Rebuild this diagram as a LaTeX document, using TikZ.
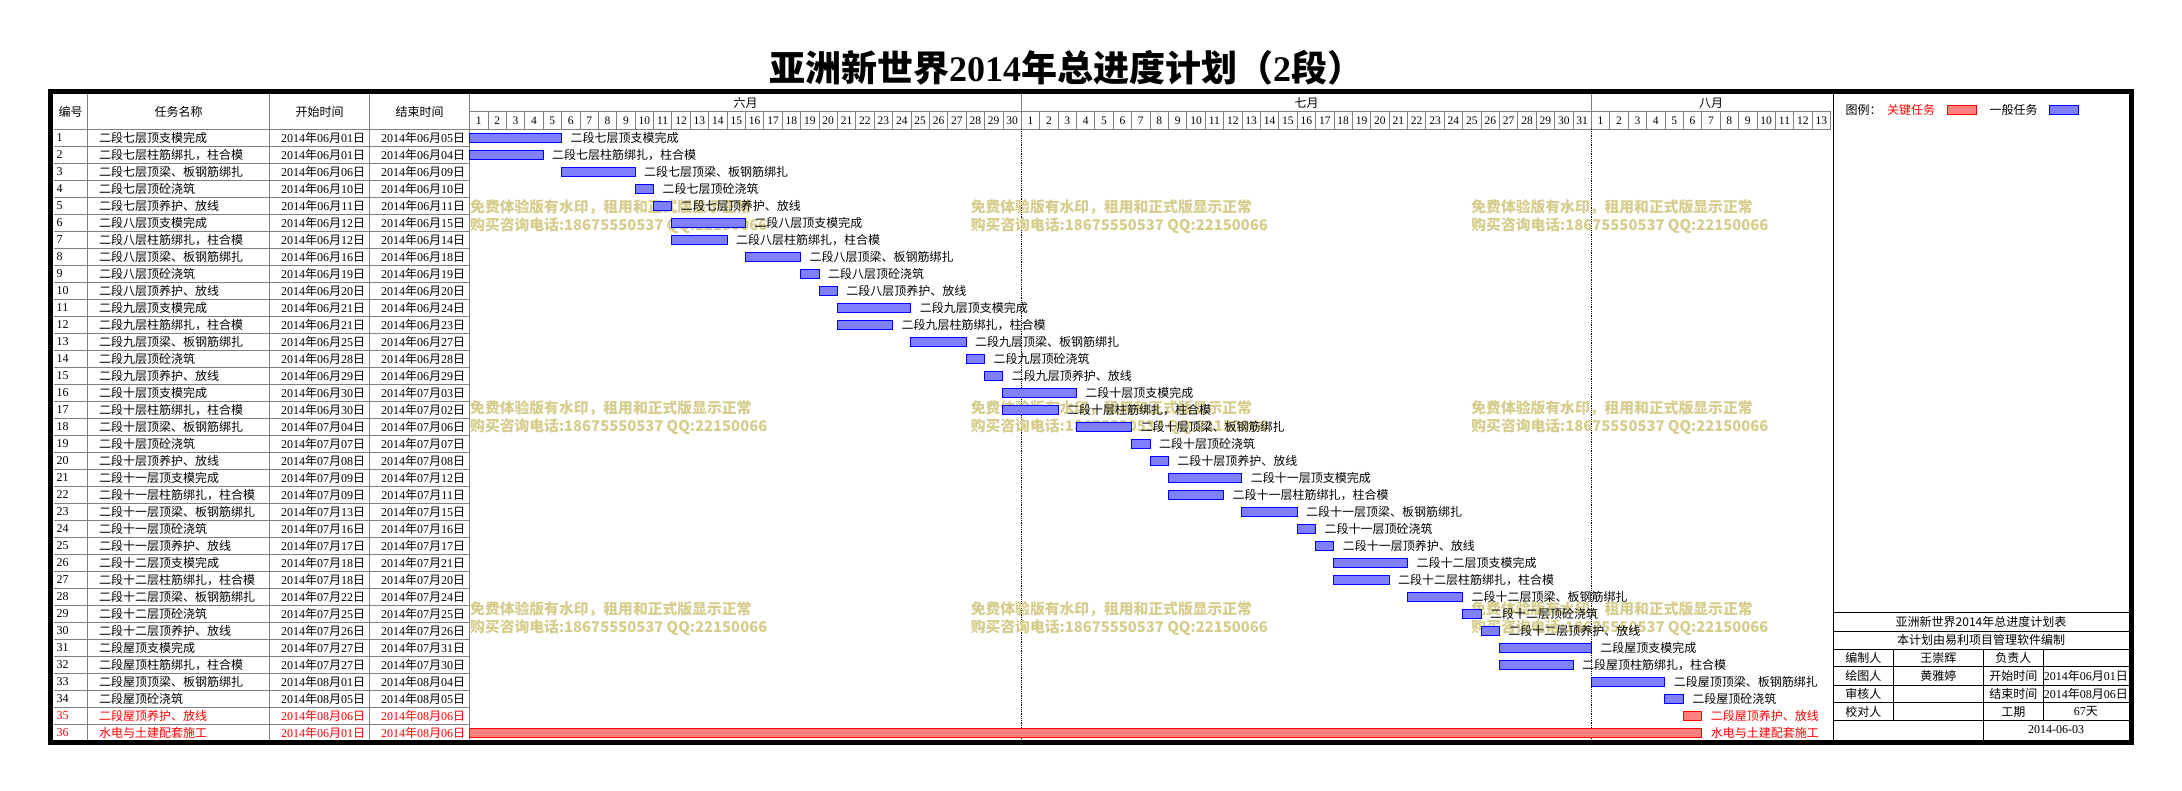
\documentclass[tikz,border=0pt]{standalone}
\usepackage{fontspec}
\setmainfont{Liberation Serif}
\newfontfamily\cjk{Noto Sans CJK SC}
\usetikzlibrary{positioning}
\definecolor{gridgray}{RGB}{128,128,128}
\definecolor{wmark}{RGB}{214,204,140}
\newcommand\twod[1]{\ifnum#1<10 0\fi#1}
\newcommand\ymd[2]{2014{\cjk 年}\twod{#1}{\cjk 月}\twod{#2}{\cjk 日}}

\begin{document}
\begin{tikzpicture}[x=1pt,y=-1pt,
  cell/.style={inner sep=0,outer sep=0,font=\fontsize{12}{14}\selectfont},
  zh/.style={cell,font=\cjk\fontsize{12}{14}\selectfont},
  day/.style={cell,font=\fontsize{11.5}{13}\selectfont},
  tline/.style={draw=gridgray,line width=0.8pt},
  bar/.style={draw=blue,fill=blue!50,line width=1pt,minimum height=9.4pt,inner sep=0,outer sep=0,anchor=west},
  critbar/.style={bar,draw=red,fill=red!50},
  wm/.style={inner sep=0,anchor=west,align=left,text=wmark,font=\cjk\bfseries\fontsize{14.8}{18}\selectfont}]
  \useasboundingbox (0,0) rectangle (2182,791);

  \node[font=\fontsize{36}{40}\selectfont\bfseries] (title) at (1066,68)
    {{\cjk 亚洲新世界}2014{\cjk 年总进度计划（}2{\cjk 段）}};

  % header
  \node[zh] (hno)   at (70.5,111.7)  {编号};
  \node[zh] (hname) at (178.5,111.7) {任务名称};
  \node[zh] (hst)   at (319.6,111.7) {开始时间};
  \node[zh] (hen)   at (419.6,111.7) {结束时间};
  \node[zh] (m6) at (745.5,102.8)  {六月};
  \node[zh] (m7) at (1306.5,102.8) {七月};
  \node[zh] (m8) at (1711,102.8)   {八月};
  \foreach \m/\off/\len in {6/0/30,7/30/31,8/61/13}
    \foreach \d in {1,...,\len}
      \node[day] (d\m-\d) at ({469.6+(\off+\d-0.5)*18.39},120.7) {\d};
  \foreach \k in {0,...,74}
    \draw[tline] ({469.6+\k*18.39},111.7) -- ++(0,17.6);
  \draw[tline] (469.6,111.7) -- (1830.6,111.7);
  \draw[tline] (53.5,129.3) -- (1830.6,129.3);
  \foreach \x in {87.5,269.6,369.6,469.6}
    \draw[tline] (\x,94) -- (\x,739.5);
  \foreach \i in {1,...,35}
    \draw[tline] (53.5,129.3+17*\i) -- (469.6,129.3+17*\i);
  \foreach \x in {1021.3,1591.5} {
    \draw[tline] (\x,94) -- (\x,111.7);
    \draw[densely dotted,line width=0.8pt] (\x,129.3) -- (\x,739.5);
  }

  % watermark
  \foreach \c in {0,1,2}
    \foreach \r in {0,1,2}
      \node[wm] (wm\c\r) at (470+500.6*\c,216.5+201*\r)
        {免费体验版有水印，租用和正式版显示正常\\购买咨询电话:18675550537 QQ:22150066};

  % tasks
  \foreach \i/\ma/\da/\mb/\db/\n in {
    1/6/1/6/5/二段七层顶支模完成, 2/6/1/6/4/二段七层柱筋绑扎，柱合模,
    3/6/6/6/9/二段七层顶梁、板钢筋绑扎, 4/6/10/6/10/二段七层顶砼浇筑,
    5/6/11/6/11/二段七层顶养护、放线, 6/6/12/6/15/二段八层顶支模完成,
    7/6/12/6/14/二段八层柱筋绑扎，柱合模, 8/6/16/6/18/二段八层顶梁、板钢筋绑扎,
    9/6/19/6/19/二段八层顶砼浇筑, 10/6/20/6/20/二段八层顶养护、放线,
    11/6/21/6/24/二段九层顶支模完成, 12/6/21/6/23/二段九层柱筋绑扎，柱合模,
    13/6/25/6/27/二段九层顶梁、板钢筋绑扎, 14/6/28/6/28/二段九层顶砼浇筑,
    15/6/29/6/29/二段九层顶养护、放线, 16/6/30/7/3/二段十层顶支模完成,
    17/6/30/7/2/二段十层柱筋绑扎，柱合模, 18/7/4/7/6/二段十层顶梁、板钢筋绑扎,
    19/7/7/7/7/二段十层顶砼浇筑, 20/7/8/7/8/二段十层顶养护、放线,
    21/7/9/7/12/二段十一层顶支模完成, 22/7/9/7/11/二段十一层柱筋绑扎，柱合模,
    23/7/13/7/15/二段十一层顶梁、板钢筋绑扎, 24/7/16/7/16/二段十一层顶砼浇筑,
    25/7/17/7/17/二段十一层顶养护、放线, 26/7/18/7/21/二段十二层顶支模完成,
    27/7/18/7/20/二段十二层柱筋绑扎，柱合模, 28/7/22/7/24/二段十二层顶梁、板钢筋绑扎,
    29/7/25/7/25/二段十二层顶砼浇筑, 30/7/26/7/26/二段十二层顶养护、放线,
    31/7/27/7/31/二段屋顶支模完成, 32/7/27/7/30/二段屋顶柱筋绑扎，柱合模,
    33/8/1/8/4/二段屋顶顶梁、板钢筋绑扎, 34/8/5/8/5/二段屋顶砼浇筑,
    35/8/6/8/6/二段屋顶养护、放线, 36/6/1/8/6/水电与土建配套施工} {
    \pgfmathsetmacro\yc{129.3+17*\i-8.5}
    \pgfmathtruncatemacro\ds{\da-1+(\ma>6)*30+(\ma>7)*31}
    \pgfmathtruncatemacro\de{\db+(\mb>6)*30+(\mb>7)*31}
    \pgfmathsetmacro\bw{(\de-\ds)*18.39}
    \ifnum\i>34 \def\tc{red}\def\bs{critbar}\else\def\tc{black}\def\bs{bar}\fi
    \node[cell,text=\tc,anchor=west] (no\i) at (56.7,\yc) {\i};
    \node[zh,text=\tc,anchor=west] (task\i) at (99,\yc) {\n};
    \node[cell,text=\tc,anchor=east] (st\i) at (365,\yc) {\ymd{\ma}{\da}};
    \node[cell,text=\tc,anchor=east] (en\i) at (465,\yc) {\ymd{\mb}{\db}};
    \node[\bs,minimum width=\bw pt] (bar\i) at ({469.6+\ds*18.39},\yc) {};
    \node[zh,text=\tc,right=9pt of bar\i] (lbl\i) {\n};
  }

  % legend
  \node[zh,anchor=west] (leg) at (1845.7,110) {图例：};
  \node[zh,text=red,anchor=west] (legcrit) at (1887,110) {关键任务};
  \node[critbar,minimum width=29pt] (boxcrit) at (1947.5,110) {};
  \node[zh,anchor=west] (legnorm) at (1989.7,110) {一般任务};
  \node[bar,minimum width=29.5pt] (boxnorm) at (2049.2,110) {};

  % info table
  \foreach \y in {612.7,631,649.3,666.7,685,702.7,720.7}
    \draw[line width=0.9pt] (1833.4,\y) -- (2128.5,\y);
  \draw[line width=0.9pt] (1893.3,649.3) -- (1893.3,720.7);
  \draw[line width=0.9pt] (2043.3,649.3) -- (2043.3,720.7);
  \draw[line width=0.9pt] (1983.3,649.3) -- (1983.3,739.5);
  \node[zh] (info1) at (1981,621.9) {亚洲新世界2014年总进度计划表};
  \node[zh] (info2) at (1981,640.2) {本计划由易利项目管理软件编制};
  \node[zh] (r1c1) at (1863.4,658)   {编制人};
  \node[zh] (r1c2) at (1938.3,658)   {王崇辉};
  \node[zh] (r1c3) at (2013.3,658)   {负责人};
  \node[zh] (r2c1) at (1863.4,675.9) {绘图人};
  \node[zh] (r2c2) at (1938.3,675.9) {黄雅婷};
  \node[zh] (r2c3) at (2013.3,675.9) {开始时间};
  \node[cell] (r2c4) at (2085.9,675.9) {\ymd{6}{1}};
  \node[zh] (r3c1) at (1863.4,693.9) {审核人};
  \node[zh] (r3c3) at (2013.3,693.9) {结束时间};
  \node[cell] (r3c4) at (2085.9,693.9) {\ymd{8}{6}};
  \node[zh] (r4c1) at (1863.4,711.7) {校对人};
  \node[zh] (r4c3) at (2013.3,711.7) {工期};
  \node[cell] (r4c4) at (2085.9,711.7) {67{\cjk 天}};
  \node[cell] (r5c3) at (2056,730)   {2014-06-03};

  % frame
  \draw[line width=0.9pt] (1833.4,94) -- (1833.4,739.5);
  \draw[line width=5pt] (50.8,91.5) rectangle (2131,742);
\end{tikzpicture}
\end{document}
